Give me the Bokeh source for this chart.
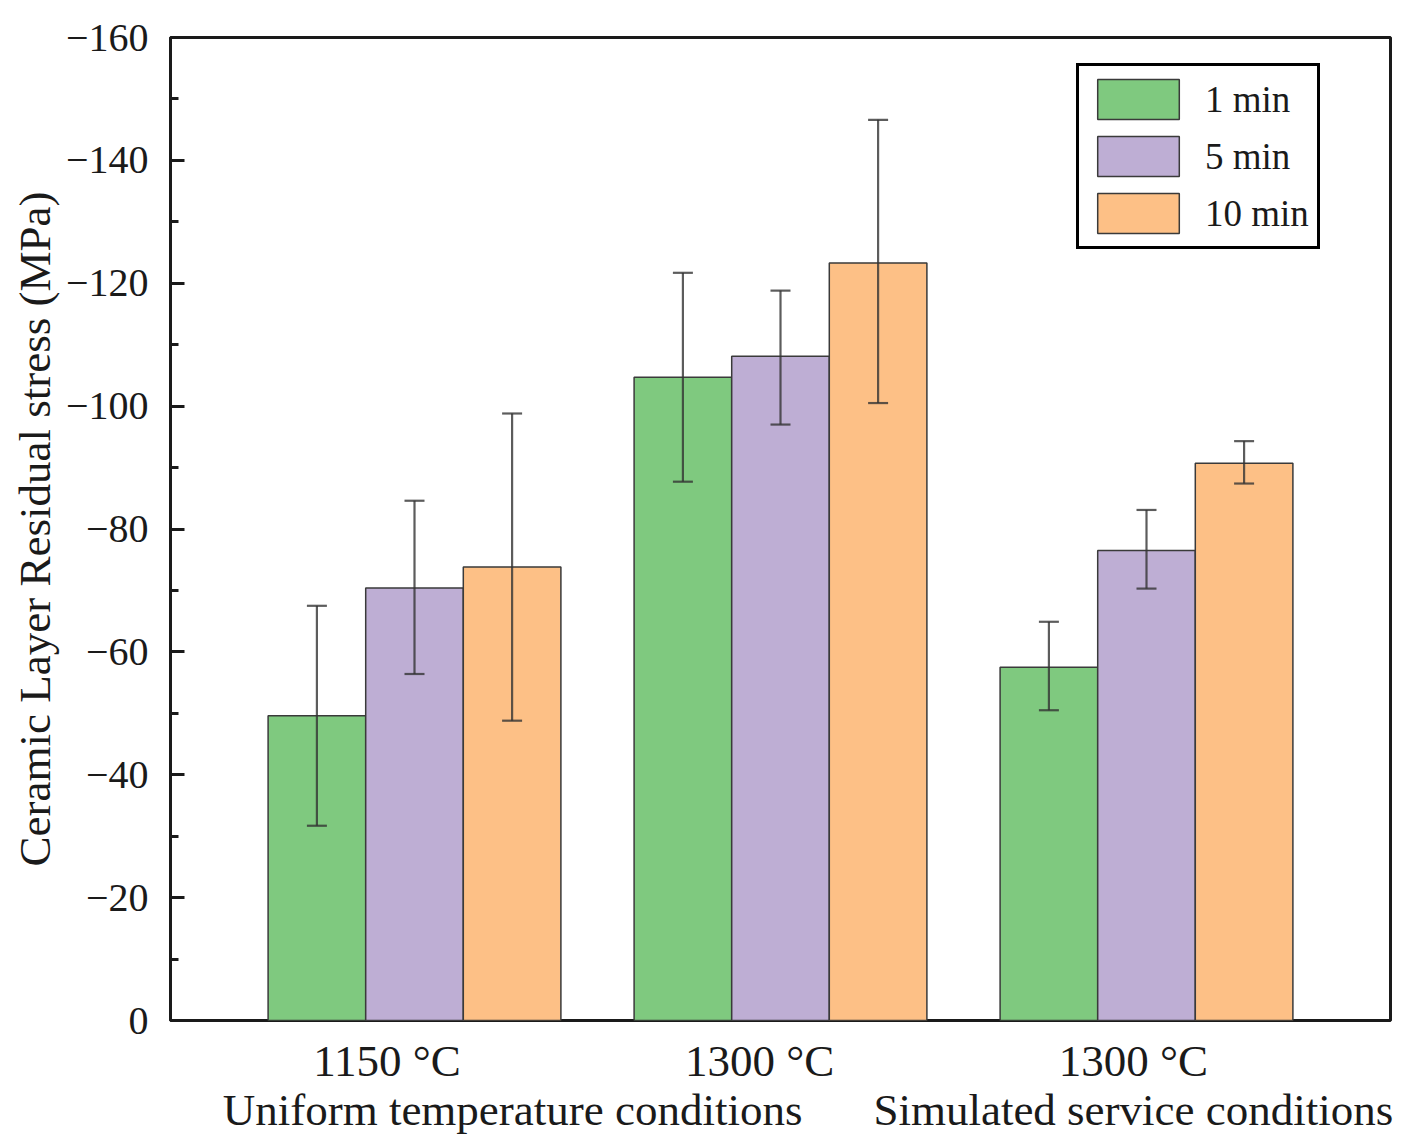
from bokeh.plotting import figure
from bokeh.models import (ColumnDataSource, Range1d, FixedTicker, Whisker, TeeHead,
                          Legend, LegendItem, LinearAxis)
from bokeh.embed import file_html
from bokeh.resources import INLINE

# ---- data (MPa) ----
group_labels = ["1150 \u00b0C", "1300 \u00b0C", "1300 \u00b0C"]
condition_labels = ["Uniform temperature conditions", "Simulated service conditions"]
durations = ["1 min", "5 min", "10 min"]

stress_1min = [-49.6, -104.7, -57.5]
stress_5min = [-70.4, -108.1, -76.5]
stress_10min = [-73.8, -123.3, -90.7]

upper_1min = [-67.5, -121.7, -64.9]
lower_1min = [-31.7, -87.7, -50.5]
upper_5min = [-84.6, -118.8, -83.1]
lower_5min = [-56.4, -97.0, -70.3]
upper_10min = [-98.8, -146.6, -94.3]
lower_10min = [-48.8, -100.5, -87.4]

y_ticks = [0, -20, -40, -60, -80, -100, -120, -140, -160]
y_tick_labels = ["0", "\u221220", "\u221240", "\u221260", "\u221280",
                 "\u2212100", "\u2212120", "\u2212140", "\u2212160"]

# label anchor positions along the category axis (group index units)
group_label_pos = [0.925, 1.943, 2.964]
condition_label_pos = [1.268, 2.964]

colors = ["#7FC97F", "#BEAED4", "#FDC086"]
FONT = "Liberation Serif"
INK = "#1a1a1a"

group_pos = [1, 2, 3]
bar_w = 0.8 / 3
offsets = [-bar_w, 0.0, bar_w]

p = figure(frame_width=1220, frame_height=983,
           x_range=Range1d(1 - 2 / 3, 3 + 2 / 3), y_range=Range1d(0, -160),
           output_backend="svg", toolbar_location=None,
           min_border_left=170, min_border_right=20, min_border_top=37,
           min_border_bottom=105, x_axis_location=None)
p.background_fill_color = "white"
p.border_fill_color = "white"
p.grid.visible = False
p.outline_line_color = INK
p.outline_line_width = 3

series = [stress_1min, stress_5min, stress_10min]
uppers = [upper_1min, upper_5min, upper_10min]
lowers = [lower_1min, lower_5min, lower_10min]

items = []
for i in range(3):
    xs = [g + offsets[i] for g in group_pos]
    src = ColumnDataSource(dict(x=xs, top=series[i], upper=uppers[i], lower=lowers[i]))
    r = p.vbar(x="x", top="top", bottom=0, width=bar_w, source=src,
               fill_color=colors[i], line_color="#3a3a3a", line_width=1.5)
    items.append(LegendItem(label=durations[i], renderers=[r]))
    w = Whisker(base="x", upper="upper", lower="lower", source=src, dimension="height",
                line_color="#333333", line_alpha=0.8, line_width=2.2,
                upper_head=TeeHead(size=20, line_color="#333333", line_width=2.2, line_alpha=0.8),
                lower_head=TeeHead(size=20, line_color="#333333", line_width=2.2, line_alpha=0.8),
                level="overlay")
    p.add_layout(w)

# category text axes below the frame
def text_axis(ticks, labels, standoff):
    ax = LinearAxis(ticker=FixedTicker(ticks=ticks, minor_ticks=[]),
                    major_label_overrides={t: s for t, s in zip(ticks, labels)},
                    axis_line_color=None, major_tick_line_color=None,
                    minor_tick_line_color=None,
                    major_label_text_font=FONT, major_label_text_font_size="45px",
                    major_label_text_color=INK, major_label_standoff=standoff)
    return ax

p.add_layout(text_axis(group_label_pos, group_labels, 9), "below")
p.add_layout(text_axis(condition_label_pos, condition_labels, -10), "below")

yax = p.yaxis[0]
yax.ticker = FixedTicker(ticks=y_ticks,
                         minor_ticks=[-10, -30, -50, -70, -90, -110, -130, -150])
yax.major_label_overrides = {t: lab for t, lab in zip(y_ticks, y_tick_labels)}
yax.major_label_text_font = FONT
yax.major_label_text_font_size = "40px"
yax.major_label_text_color = INK
yax.major_label_standoff = 22
yax.major_tick_in = 14
yax.major_tick_out = 0
yax.minor_tick_in = 8
yax.minor_tick_out = 0
yax.major_tick_line_width = 3
yax.minor_tick_line_width = 3
yax.major_tick_line_color = INK
yax.minor_tick_line_color = INK
yax.axis_line_width = 3
yax.axis_line_color = INK
yax.axis_label = "Ceramic Layer Residual stress (MPa)"
yax.axis_label_text_font = FONT
yax.axis_label_text_font_size = "45px"
yax.axis_label_text_font_style = "normal"
yax.axis_label_text_color = INK
yax.axis_label_standoff = 3

legend = Legend(items=items, location=(906, 771), orientation="vertical",
                glyph_width=102, glyph_height=50, spacing=7, padding=8, margin=0,
                label_standoff=16, label_text_font=FONT, label_text_font_size="37px",
                label_text_color=INK, label_height=50,
                border_line_color="black", border_line_width=3, border_line_alpha=1.0,
                background_fill_color="white", background_fill_alpha=1.0)
p.add_layout(legend)

open("out.html", "w").write(file_html(p, INLINE))
